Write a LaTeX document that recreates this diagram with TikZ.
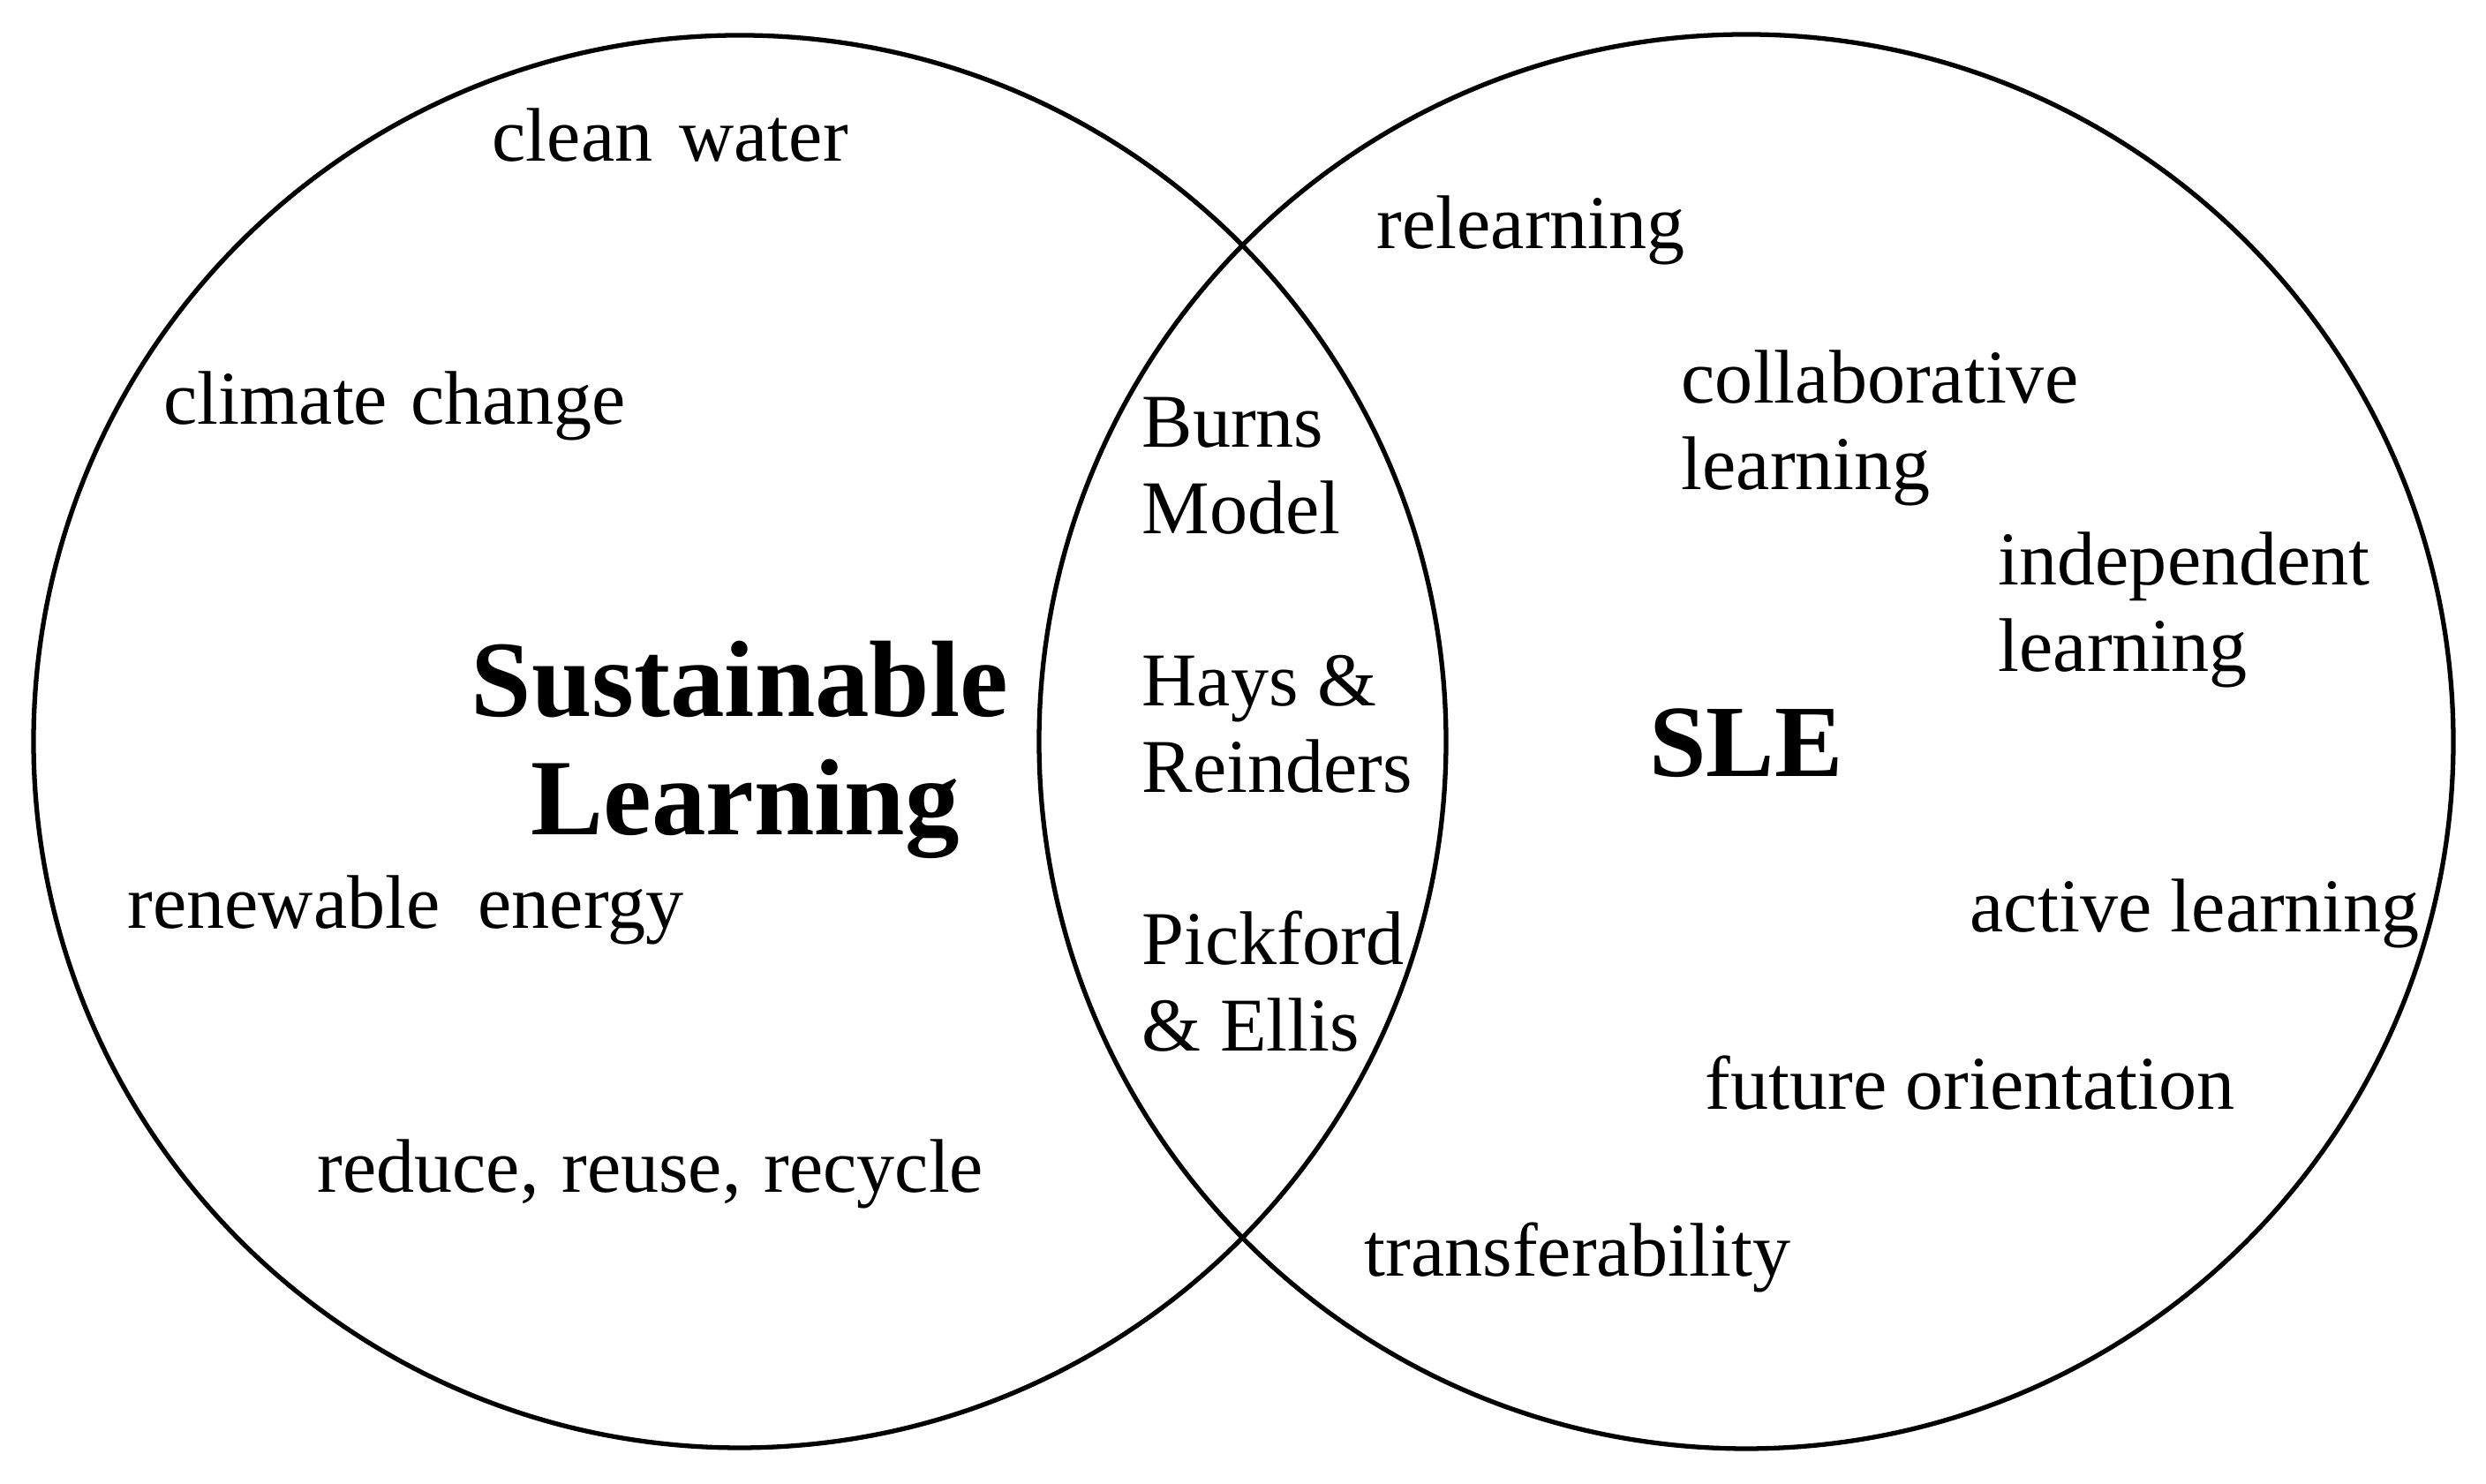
\documentclass[tikz,border=0pt]{standalone}
\usepackage{fontspec}
\setmainfont{Liberation Serif}

\begin{document}
\begin{tikzpicture}[
    txt/.style={inner sep=0pt, font=\fontsize{24.5pt}{28.1pt}\selectfont},
    big/.style={inner sep=0pt, font=\fontsize{35pt}{38.1pt}\selectfont\bfseries}
  ]
    \useasboundingbox (0,0) rectangle (28.16,16.81);

    % the two sets
    \draw[line width=1.5pt] (8.38,8.41) circle (8.0);
    \draw[line width=1.5pt] (19.78,8.41) circle (8.01);

    % Sustainable Learning
    \node[big, anchor=base] (sl1) at (8.38,8.69) {Sustainable};
    \node[big, anchor=base] (sl2) at (8.44,7.35) {Learning};
    \node[txt, anchor=base west] (water) at (5.57,14.98) {clean\hspace{0.35em}water};
    \node[txt, anchor=base west] (climate) at (1.85,12.0) {climate\hspace{0.3em}change};
    \node[txt, anchor=base west] (energy) at (1.44,6.29) {renewable\hspace{0.5em}energy};
    \node[txt, anchor=base west] (recycle) at (3.59,3.30) {reduce,\hspace{0.3em}reuse,\hspace{0.3em}recycle};

    % overlap (base = last line)
    \node[txt, anchor=base west, align=left] (burns) at (12.93,10.76) {Burns\\Model};
    \node[txt, anchor=base west, align=left] (hays) at (12.93,7.83) {Hays \&\\Reinders};
    \node[txt, anchor=base west, align=left] (pick) at (12.93,4.90) {Pickford\\\& Ellis};

    % SLE
    \node[big, anchor=base, font=\fontsize{33pt}{38.1pt}\selectfont\bfseries] (sle) at (19.78,8.01) {SLE};
    \node[txt, anchor=base west] (relearn) at (15.59,13.99) {relearning};
    \node[txt, anchor=base west, align=left] (collab) at (19.04,11.26) {collaborative\\learning};
    \node[txt, anchor=base west, align=left] (indep) at (22.63,9.20) {independent\\learning};
    \node[txt, anchor=base west] (active) at (22.31,6.25) {active learning};
    \node[txt, anchor=base west] (future) at (19.31,4.24) {future orientation};
    \node[txt, anchor=base west] (transfer) at (15.45,2.35) {transferability};

\end{tikzpicture}
\end{document}
